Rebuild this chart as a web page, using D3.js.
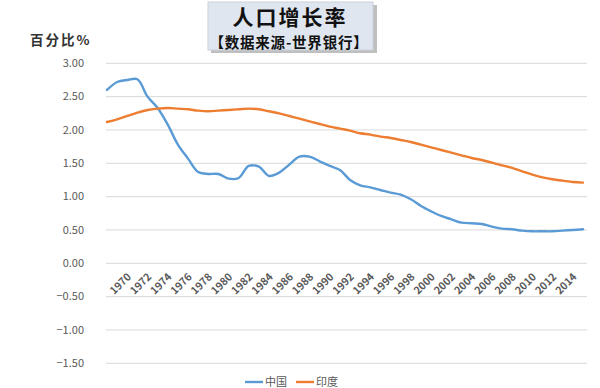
<!DOCTYPE html>
<html lang="zh">
    <head>
        <meta charset="utf-8">
        <title>人口增长率</title>
        <script type="text/javascript" src="https://d3js.org/d3.v7.min.js"></script>
        <style type="text/css">
            body {
                margin: 0;
                background-color: #ffffff;
            }
            svg {
                display: block;
                font-family: "Noto Sans CJK SC", "Noto Sans", sans-serif;
            }
            .grid line {
                stroke: #d9d9d9;
                stroke-width: 1;
            }
            .ylabels text {
                font-size: 11px;
                fill: #595959;
            }
            .xlabels text {
                font-size: 10.5px;
                fill: #595959;
                font-weight: 600;
            }
        </style>
    </head>
    <body>
        <svg width="600" height="388"></svg>
        <script type="text/javascript">

            // data (World Bank, population growth %)
            const years = d3.range(1968, 2016);
            const china = [2.60, 2.72, 2.75, 2.76, 2.50, 2.33, 2.08, 1.78, 1.57, 1.37,
                           1.34, 1.34, 1.27, 1.28, 1.46, 1.45, 1.31, 1.36, 1.48, 1.60,
                           1.60, 1.53, 1.46, 1.40, 1.25, 1.17, 1.14, 1.10, 1.06, 1.03,
                           0.96, 0.86, 0.78, 0.71, 0.66, 0.61, 0.60, 0.59, 0.55, 0.52,
                           0.51, 0.49, 0.48, 0.48, 0.48, 0.49, 0.50, 0.51];
            const india = [2.12, 2.16, 2.21, 2.26, 2.30, 2.32, 2.33, 2.32, 2.31, 2.29,
                           2.28, 2.29, 2.30, 2.31, 2.32, 2.31, 2.28, 2.25, 2.21, 2.17,
                           2.13, 2.09, 2.05, 2.02, 1.99, 1.95, 1.93, 1.90, 1.88, 1.85,
                           1.82, 1.78, 1.74, 1.70, 1.66, 1.62, 1.58, 1.55, 1.51, 1.47,
                           1.43, 1.38, 1.33, 1.29, 1.26, 1.24, 1.22, 1.21];
            const yearLabels = d3.range(1970, 2015, 2);
            const yTicks = [3.0, 2.5, 2.0, 1.5, 1.0, 0.5, 0.0, -0.5, -1.0, -1.5];
            const seriesNames = ["中国", "印度"];
            const colors = ["#5b9bd5", "#ed7d31"];

            const svg = d3.select("svg");

            // scales
            const x = d3.scaleLinear().domain([1968, 2015]).range([107, 583]);
            const y = d3.scaleLinear().domain([-1.5, 3]).range([363.3, 63.3]);

            // title box with shadow
            svg.append("rect")
                .attr("x", 211).attr("y", 5)
                .attr("width", 166).attr("height", 48)
                .attr("fill", "#bfbfbf");
            svg.append("rect")
                .attr("x", 208).attr("y", 2)
                .attr("width", 165).attr("height", 48)
                .attr("fill", "#dfe6ef")
                .attr("stroke", "#c9d1db");
            svg.append("text")
                .attr("x", 290).attr("y", 25)
                .attr("text-anchor", "middle")
                .attr("font-size", 21)
                .attr("font-weight", "bold")
                .attr("letter-spacing", 2)
                .attr("fill", "#111")
                .text("人口增长率");
            svg.append("text")
                .attr("x", 289).attr("y", 47.5)
                .attr("text-anchor", "middle")
                .attr("font-size", 14.5)
                .attr("font-weight", "bold")
                .attr("letter-spacing", 0.8)
                .attr("fill", "#111")
                .text("【数据来源-世界银行】");

            // y axis title
            svg.append("text")
                .attr("x", 30).attr("y", 45)
                .attr("font-size", 13.5)
                .attr("font-weight", "bold")
                .attr("letter-spacing", 2)
                .attr("fill", "#333")
                .text("百分比%");

            // gridlines
            svg.append("g").attr("class", "grid")
                .selectAll("line")
                .data(yTicks)
                .enter()
                .append("line")
                .attr("x1", 106).attr("x2", 587)
                .attr("y1", d => y(d)).attr("y2", d => y(d));

            // y labels
            svg.append("g").attr("class", "ylabels")
                .selectAll("text")
                .data(yTicks)
                .enter()
                .append("text")
                .attr("x", 84)
                .attr("y", d => y(d))
                .attr("dy", "0.35em")
                .attr("text-anchor", "end")
                .text(d => d3.format(".2f")(d));

            // x labels, rotated
            svg.append("g").attr("class", "xlabels")
                .selectAll("text")
                .data(yearLabels)
                .enter()
                .append("text")
                .attr("transform", d => "translate(" + (x(d) - 1) + ",272) rotate(-45)")
                .attr("dy", "0.75em")
                .attr("text-anchor", "end")
                .text(d => d);

            // lines
            const line = d3.line()
                .x((d, i) => x(years[i]))
                .y(d => y(d))
                .curve(d3.curveCatmullRom.alpha(0.5));

            [china, india].forEach(function (s, i) {
                svg.append("path")
                    .attr("d", line(s))
                    .attr("fill", "none")
                    .attr("stroke", colors[i])
                    .attr("stroke-width", 2.4)
                    .attr("stroke-linejoin", "round")
                    .attr("stroke-linecap", "round");
            });

            // legend
            const legend = svg.append("g")
                .selectAll("g")
                .data(seriesNames)
                .enter()
                .append("g")
                .attr("transform", (d, i) => "translate(" + (245 + i * 51) + ",382)");
            legend.append("line")
                .attr("x1", 0).attr("x2", 18)
                .attr("stroke", (d, i) => colors[i])
                .attr("stroke-width", 2.4);
            legend.append("text")
                .attr("x", 20)
                .attr("dy", "0.35em")
                .attr("font-size", 11)
                .attr("fill", "#595959")
                .text(d => d);
        </script>
    </body>
</html>
